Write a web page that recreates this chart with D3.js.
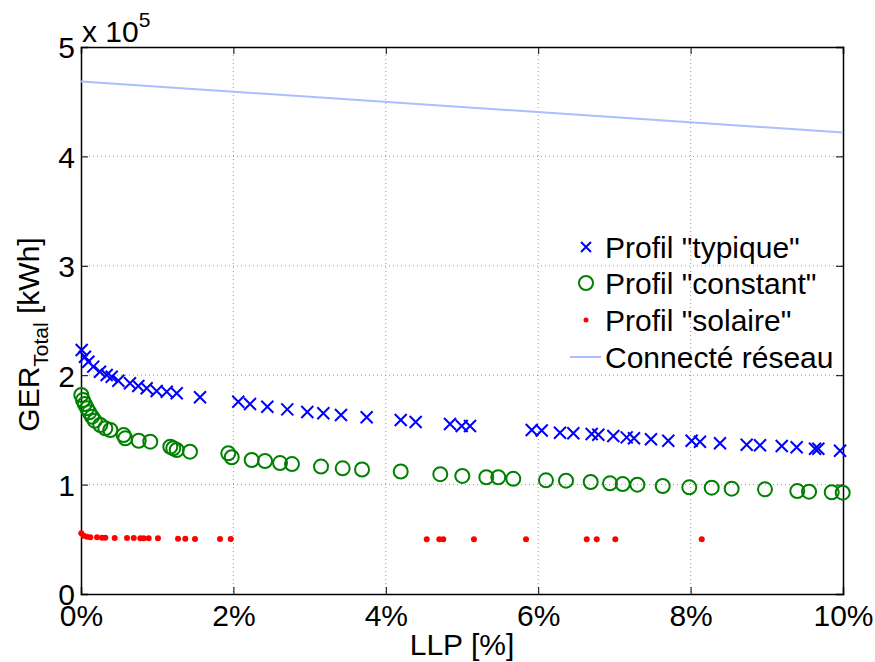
<!DOCTYPE html>
<html><head><meta charset="utf-8">
<script src="https://cdn.jsdelivr.net/npm/d3@7"></script>
<style>body{margin:0;background:#fff}svg{display:block}text{font-family:"Liberation Sans",Arial,sans-serif;fill:#000}</style>
</head><body>
<script>
// LLP [%] and GER [x1e5 kWh]
const typX = [0.009,0.052,0.096,0.161,0.249,0.337,0.403,0.490,0.643,0.752,0.862,0.993,1.125,1.256,1.562,2.064,2.218,2.445,2.707,2.970,3.180,3.412,3.749,4.196,4.392,4.843,4.996,5.105,5.915,6.046,6.286,6.461,6.702,6.789,6.986,7.161,7.257,7.480,7.707,8.014,8.123,8.386,8.736,8.911,9.196,9.392,9.633,9.676,9.961];
const typY = [2.230,2.169,2.123,2.078,2.032,2.002,1.986,1.950,1.926,1.901,1.880,1.856,1.849,1.835,1.798,1.758,1.737,1.712,1.688,1.664,1.652,1.636,1.615,1.590,1.572,1.554,1.536,1.536,1.499,1.495,1.474,1.469,1.463,1.456,1.444,1.432,1.423,1.414,1.401,1.401,1.392,1.378,1.365,1.359,1.353,1.341,1.328,1.328,1.310];
const conX = [0.004,0.026,0.049,0.079,0.109,0.144,0.180,0.253,0.319,0.385,0.560,0.581,0.757,0.909,1.172,1.211,1.256,1.430,1.933,1.978,2.240,2.415,2.612,2.769,3.150,3.434,3.688,4.196,4.715,5.004,5.319,5.476,5.673,6.102,6.365,6.689,6.942,7.109,7.301,7.634,7.983,8.277,8.539,8.976,9.400,9.554,9.852,9.996];
const conY = [1.819,1.773,1.737,1.697,1.661,1.621,1.584,1.545,1.515,1.499,1.453,1.423,1.401,1.392,1.346,1.332,1.316,1.301,1.286,1.250,1.225,1.216,1.197,1.188,1.165,1.149,1.138,1.120,1.095,1.079,1.067,1.067,1.053,1.039,1.036,1.024,1.012,1.005,0.999,0.987,0.975,0.972,0.963,0.957,0.941,0.935,0.930,0.926];
const solX = [0.004,0.035,0.079,0.122,0.210,0.276,0.319,0.442,0.604,0.692,0.778,0.823,0.888,1.010,1.273,1.369,1.496,1.824,1.965,4.537,4.702,4.754,5.157,5.840,6.637,6.768,7.012,8.146];
const solY = [0.555,0.533,0.524,0.518,0.518,0.515,0.515,0.512,0.512,0.512,0.509,0.509,0.509,0.509,0.506,0.506,0.503,0.503,0.503,0.500,0.500,0.500,0.500,0.500,0.500,0.500,0.500,0.500];
const gridX = [0, 10];
const gridY = [4.685, 4.218];
const xTicks = [0,2,4,6,8,10];
const yTicks = [0,1,2,3,4,5];
const legendLabels = ['Profil "typique"','Profil "constant"','Profil "solaire"','Connecté réseau'];

const W = 875, H = 662;
const L = 81, R = 843, T = 47, B = 594;
const svg = d3.select("body").append("svg").attr("width", W).attr("height", H);
const x = d3.scaleLinear().domain([0,10]).range([L,R]);
const y = d3.scaleLinear().domain([0,5]).range([B,T]);

// grid
const g = svg.append("g");
g.selectAll(".gx").data(xTicks.slice(1,-1)).join("line")
  .attr("x1", d=>x(d)).attr("x2", d=>x(d)).attr("y1", T).attr("y2", B)
  .attr("stroke","#999").attr("stroke-width",1).attr("stroke-dasharray","1,3");
g.selectAll(".gy").data(yTicks.slice(1,-1)).join("line")
  .attr("y1", d=>y(d)).attr("y2", d=>y(d)).attr("x1", L).attr("x2", R)
  .attr("stroke","#999").attr("stroke-width",1).attr("stroke-dasharray","1,3");

// axes
const fs = 30;
const ax = svg.append("g").attr("transform",`translate(0,${B})`)
  .call(d3.axisBottom(x).tickValues(xTicks).tickSize(-7).tickPadding(11).tickFormat(d=>d+"%"));
const axT = svg.append("g").attr("transform",`translate(0,${T})`)
  .call(d3.axisTop(x).tickValues(xTicks).tickSize(-7).tickFormat(""));
const ay = svg.append("g").attr("transform",`translate(${L},0)`)
  .call(d3.axisLeft(y).tickValues(yTicks).tickSize(-7).tickPadding(6).tickFormat(d3.format("d")));
const ayR = svg.append("g").attr("transform",`translate(${R},0)`)
  .call(d3.axisRight(y).tickValues(yTicks).tickSize(-7).tickFormat(""));
[ax,axT,ay,ayR].forEach(a=>{
  a.select(".domain").attr("stroke","#000").attr("stroke-width",1.5);
  a.selectAll(".tick line").attr("stroke","#000").attr("stroke-width",1);
  a.selectAll("text").attr("font-size",fs).attr("font-family","Liberation Sans, Arial, sans-serif");
});
ax.selectAll(".tick text").attr("dy","0.71em");
ay.selectAll(".tick text").attr("dy","0.36em");

// exponent
const ex = svg.append("text").attr("x", 82).attr("y", 42).attr("font-size", fs);
ex.append("tspan").text("x 10");
ex.append("tspan").attr("dy",-15).attr("font-size",21).text("5");

// axis labels
svg.append("text").attr("x", (L+R)/2).attr("y", 655).attr("text-anchor","middle").attr("font-size",fs).text("LLP [%]");
const yl = svg.append("text").attr("transform",`translate(39,${(T+B)/2+14}) rotate(-90)`).attr("text-anchor","middle").attr("font-size",fs);
yl.append("tspan").text("GER");
yl.append("tspan").attr("dy",9).attr("font-size",21).text("Total");
yl.append("tspan").attr("dy",-9).text(" [kWh]");

// grid-connected line
svg.append("line").attr("x1",x(gridX[0])).attr("y1",y(gridY[0])).attr("x2",x(gridX[1])).attr("y2",y(gridY[1]))
  .attr("stroke","#aabfff").attr("stroke-width",2);

// constant: circles
svg.append("g").selectAll("circle").data(conX.map((v,i)=>[v,conY[i]])).join("circle")
  .attr("cx",d=>x(d[0])).attr("cy",d=>y(d[1])).attr("r",7)
  .attr("fill","none").attr("stroke","#008000").attr("stroke-width",2);

// typique: crosses
const s = 6;
svg.append("g").selectAll("path").data(typX.map((v,i)=>[v,typY[i]])).join("path")
  .attr("d",d=>{const cx=x(d[0]),cy=y(d[1]);return `M${cx-s},${cy-s}L${cx+s},${cy+s}M${cx-s},${cy+s}L${cx+s},${cy-s}`;})
  .attr("stroke","#0000ff").attr("stroke-width",2).attr("fill","none");

// solaire: dots
svg.append("g").selectAll("circle").data(solX.map((v,i)=>[v,solY[i]])).join("circle")
  .attr("cx",d=>x(d[0])).attr("cy",d=>y(d[1])).attr("r",3).attr("fill","#ff0000");

// legend
const lg = svg.append("g");
const ly = [247, 283, 320, 357];
const lx = 586, tx = 605;
lg.append("path").attr("d",`M${lx-5},${ly[0]-5}L${lx+5},${ly[0]+5}M${lx-5},${ly[0]+5}L${lx+5},${ly[0]-5}`).attr("stroke","#0000ff").attr("stroke-width",2);
lg.append("circle").attr("cx",lx).attr("cy",ly[1]).attr("r",7).attr("fill","none").attr("stroke","#008000").attr("stroke-width",2);
lg.append("circle").attr("cx",lx).attr("cy",ly[2]).attr("r",2.5).attr("fill","#ff0000");
lg.append("line").attr("x1",570).attr("x2",601).attr("y1",ly[3]).attr("y2",ly[3]).attr("stroke","#aabfff").attr("stroke-width",2);
lg.selectAll("text").data(legendLabels).join("text")
  .attr("x",tx).attr("y",(d,i)=>ly[i]).attr("dy","0.36em").attr("font-size",fs).text(d=>d);
</script>
</body></html>
